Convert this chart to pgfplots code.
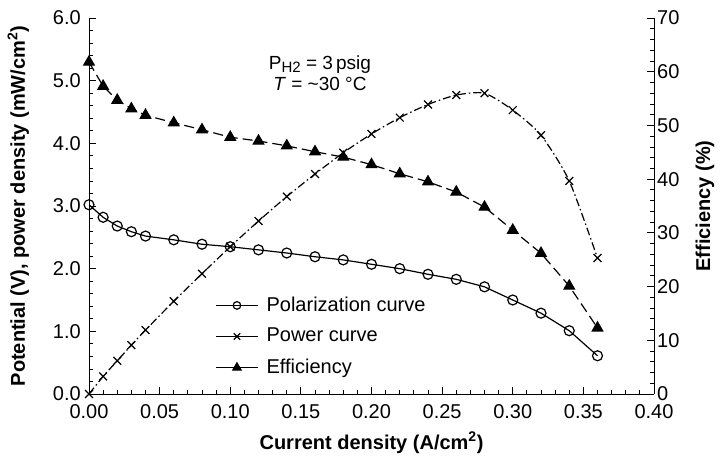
\documentclass[border=0pt]{standalone}
\usepackage{pgfplots}
\pgfplotsset{compat=1.18}
\usepackage{fontspec}
\setmainfont{Liberation Sans}
\begin{document}
\fontsize{20}{24}\selectfont
\begin{tikzpicture}
\useasboundingbox (-89pt,-68pt) rectangle (633pt,394pt);
\pgfplotsset{
 every axis/.append style={
  scale only axis, width=565pt, height=376pt, at={(0,0)}, anchor=south west,
  xmin=0, xmax=0.4,
  tick align=inside, major tick length=7pt, minor tick length=4pt,
  every tick/.style={black, line width=0.8pt},
  every minor tick/.style={black, line width=0.8pt},
  axis line style={line width=0.9pt, -},
  /pgf/number format/assume math mode=true,
  tick label style={font=\fontsize{20}{24}\selectfont, inner sep=1pt},
  label style={font=\bfseries\fontsize{20}{24}\selectfont},
 }
}
\begin{axis}[
  axis x line*=bottom, axis y line*=left,
  ymin=0, ymax=6, ytick={0,1,2,3,4,5,6}, minor y tick num=4,
  xtick={0,0.05,0.1,0.15,0.2,0.25,0.3,0.35,0.4}, minor x tick num=4,
  xticklabel style={yshift=-9pt, /pgf/number format/.cd, fixed, fixed zerofill, precision=2},
  yticklabel style={xshift=-7pt, /pgf/number format/.cd, fixed, fixed zerofill, precision=1},
  xlabel={Current density (A/cm\textsuperscript{2})},
  ylabel={Potential (V), power density (mW/cm\textsuperscript{2})},
  xlabel style={at={(axis description cs:0.5,-0.13)}, anchor=center},
  ylabel style={at={(axis description cs:-0.125,0.5)}, anchor=center},
]
\addplot[black, line width=1.2pt, mark=o, mark size=5pt, mark options={solid, fill=white}] coordinates {
(0,3.02) (0.01,2.82) (0.02,2.68) (0.03,2.59) (0.04,2.52) (0.06,2.46) (0.08,2.39) (0.10,2.35) (0.12,2.30) (0.14,2.25) (0.16,2.19) (0.18,2.14) (0.20,2.07) (0.22,2.00) (0.24,1.91) (0.26,1.83) (0.28,1.71) (0.30,1.50) (0.32,1.29) (0.34,1.01) (0.36,0.61)};
\addplot[black, line width=1.2pt, smooth, tension=0.4, dash pattern=on 8pt off 3pt on 1.5pt off 3pt, mark=x, mark size=5.5pt, mark options={solid}] coordinates {
(0,0) (0.01,0.28) (0.02,0.53) (0.03,0.78) (0.04,1.02) (0.06,1.48) (0.08,1.92) (0.10,2.35) (0.12,2.76) (0.14,3.15) (0.16,3.51) (0.18,3.85) (0.20,4.15) (0.22,4.41) (0.24,4.62) (0.26,4.77) (0.28,4.80) (0.30,4.53) (0.32,4.13) (0.34,3.40) (0.36,2.17)};
\node[align=center, font=\fontsize{19}{21}\selectfont] at (axis cs:0.1635,5.12) {P\raisebox{-0.35ex}{\fontsize{15}{15}\selectfont H2} = 3\,psig\\\textit{T} = \textasciitilde30 °C};
\end{axis}
\begin{axis}[
  axis x line=none, axis y line*=right,
  ymin=0, ymax=70, ytick={0,10,20,30,40,50,60,70}, minor y tick num=4,
  yticklabel style={xshift=2pt},
  ylabel={Efficiency (\%)},
  ylabel style={at={(axis description cs:1.09,0.5)}, anchor=center},
  legend style={draw=none, fill=none, at={(axis description cs:0.218,0.27)}, anchor=north west, row sep=10pt, font=\fontsize{20}{24}\selectfont, /tikz/every odd column/.append style={column sep=6pt}},
  legend cell align=left,
  legend image code/.code={\draw[mark repeat=2,mark phase=2,#1,solid] plot coordinates {(0pt,0pt) (21pt,0pt) (42pt,0pt)};},
]
\addlegendimage{black, line width=1.2pt, mark=o, mark size=3.8pt, mark options={solid, fill=white}}
\addlegendentry{Polarization curve}
\addlegendimage{black, line width=1.2pt, mark=x, mark size=4.5pt, mark options={solid}}
\addlegendentry{Power curve}
\addlegendimage{black, line width=1.2pt, mark=triangle*, mark size=4.8pt, mark options={solid, fill=black}}
\addlegendentry{Efficiency}
\addplot[black, line width=1.2pt, dash pattern=on 10pt off 5pt, mark=triangle*, mark size=6pt, mark options={solid, fill=black}, forget plot] coordinates {
(0,61.8) (0.01,57.3) (0.02,54.7) (0.03,53.1) (0.04,51.9) (0.06,50.5) (0.08,49.2) (0.10,47.8) (0.12,47.1) (0.14,46.2) (0.16,45.1) (0.18,44.1) (0.20,42.7) (0.22,41.0) (0.24,39.5) (0.26,37.6) (0.28,34.8) (0.30,30.5) (0.32,26.2) (0.34,20.1) (0.36,12.3)};
\end{axis}
\end{tikzpicture}
\end{document}
